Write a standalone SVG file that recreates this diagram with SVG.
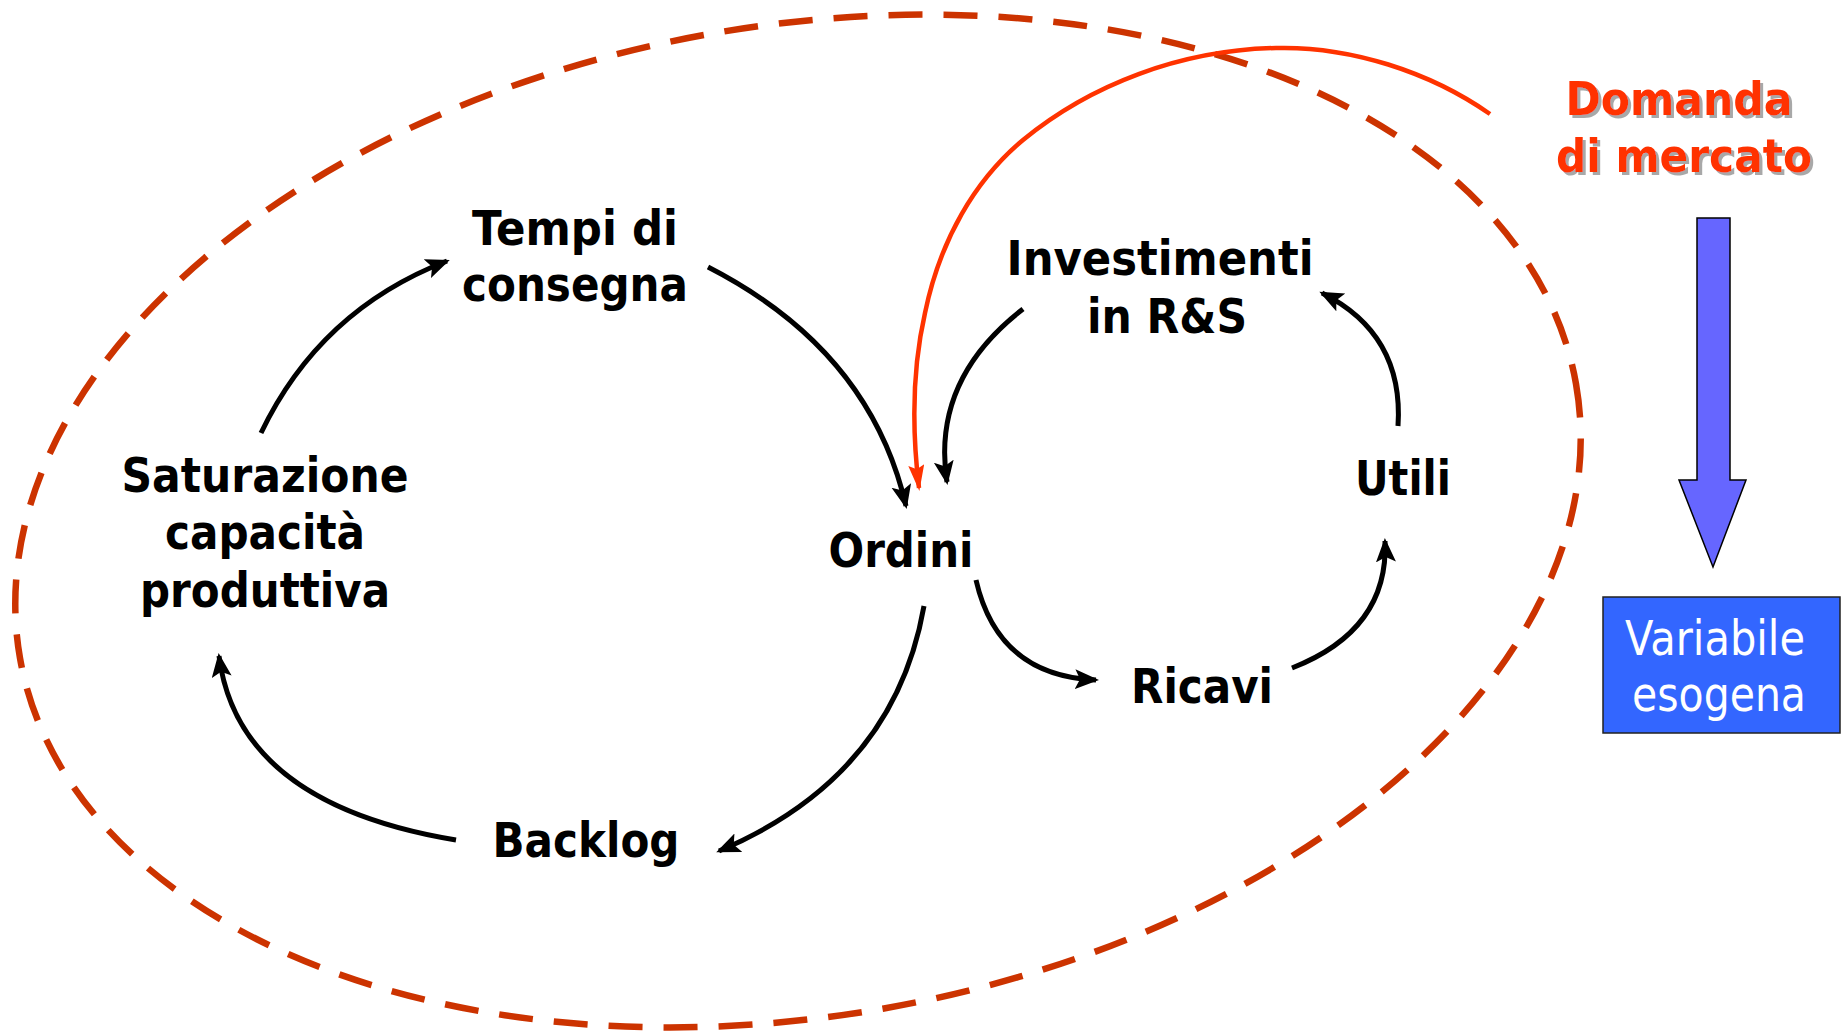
<svg xmlns="http://www.w3.org/2000/svg" width="1844" height="1034" viewBox="0 0 1844 1034">
<style>
.lbl{font-family:"DejaVu Sans","Liberation Sans",sans-serif;font-weight:bold;font-size:48px;fill:#000;text-anchor:middle}
.dom{font-family:"DejaVu Sans","Liberation Sans",sans-serif;font-weight:bold;font-size:46px;fill:#FF3300;text-anchor:middle;filter:url(#shadow)}
.var{font-family:"DejaVu Sans","Liberation Sans",sans-serif;font-size:48px;fill:#fff;text-anchor:middle}
.arr{fill:none;stroke:#000;stroke-width:5;marker-end:url(#ah)}
</style>
<defs>
<filter id="shadow" x="-5%" y="-20%" width="115%" height="150%">
<feDropShadow dx="3" dy="3" stdDeviation="0.6" flood-color="#A8A8A8" flood-opacity="1"/>
</filter>
<marker id="ah" markerUnits="userSpaceOnUse" markerWidth="26" markerHeight="22" refX="21" refY="10" orient="auto">
<path d="M0,0 L24,10 L0,20 L5,10 Z" fill="#000"/>
</marker>
<marker id="ahr" markerUnits="userSpaceOnUse" markerWidth="28" markerHeight="20" refX="23" refY="8" orient="auto">
<path d="M0,0 L26,8 L0,16 L4,8 Z" fill="#FF3300"/>
</marker>
</defs>
<rect width="1844" height="1034" fill="#fff"/>
<ellipse id="boundary" cx="798" cy="521" rx="790" ry="495" transform="rotate(-10 798 521)" fill="none" stroke="#CC3300" stroke-width="6.5" stroke-dasharray="34 21"/>
<g id="connectors">
<path class="arr" d="M261,433 Q320,310 447,261"/>
<path class="arr" d="M708,267 Q870,350 906,506"/>
<path class="arr" d="M1023,309 Q931,380 947,482"/>
<path class="arr" d="M1398,426 Q1404,334 1322,293"/>
<path class="arr" d="M976,580 Q998,676 1096,680"/>
<path class="arr" d="M1292,668 Q1389,630 1385,541"/>
<path class="arr" d="M924,606 Q894,777 719,851"/>
<path class="arr" d="M456,840 Q238,804 219,656"/>
<path fill="none" stroke="#FF3300" stroke-width="4.5" marker-end="url(#ahr)" d="M1490,114 C1430,72 1350,46 1276,48 C1180,50 1090,85 1023,140 C975,180 940,240 925,313 C912,370 912,430 919,488"/>
<path id="exo-arrow" d="M1697,218 L1730,218 L1730,480 L1746,480 L1713,567 L1679,480 L1697,480 Z" fill="#6666FF" stroke="#000" stroke-width="1.5"/>
</g>
<g id="tempi"><text class="lbl" x="575" y="245" textLength="206" lengthAdjust="spacingAndGlyphs">Tempi di</text><text class="lbl" x="575" y="301" textLength="226" lengthAdjust="spacingAndGlyphs">consegna</text></g>
<g id="investimenti"><text class="lbl" x="1160" y="275" textLength="307" lengthAdjust="spacingAndGlyphs">Investimenti</text><text class="lbl" x="1167" y="333" textLength="160" lengthAdjust="spacingAndGlyphs">in R&amp;S</text></g>
<g id="utili"><text class="lbl" x="1403" y="495" textLength="96" lengthAdjust="spacingAndGlyphs">Utili</text></g>
<g id="ordini"><text class="lbl" x="901" y="567" textLength="145" lengthAdjust="spacingAndGlyphs">Ordini</text></g>
<g id="ricavi"><text class="lbl" x="1202" y="703" textLength="142" lengthAdjust="spacingAndGlyphs">Ricavi</text></g>
<g id="backlog"><text class="lbl" x="586" y="857" textLength="187" lengthAdjust="spacingAndGlyphs">Backlog</text></g>
<g id="saturazione"><text class="lbl" x="265" y="492" textLength="287" lengthAdjust="spacingAndGlyphs">Saturazione</text><text class="lbl" x="265" y="549" textLength="200" lengthAdjust="spacingAndGlyphs">capacità</text><text class="lbl" x="265" y="607" textLength="250" lengthAdjust="spacingAndGlyphs">produttiva</text></g>
<g id="domanda">
<text class="dom" x="1679" y="115" textLength="227" lengthAdjust="spacingAndGlyphs">Domanda</text><text class="dom" x="1684" y="172" textLength="256" lengthAdjust="spacingAndGlyphs">di mercato</text>
</g>
<g id="variabile"><rect x="1603" y="597" width="237" height="136" fill="#3366FF" stroke="#222" stroke-width="1.5"/><text class="var" x="1715" y="655" textLength="180" lengthAdjust="spacingAndGlyphs">Variabile</text><text class="var" x="1719" y="711" textLength="174" lengthAdjust="spacingAndGlyphs">esogena</text></g>
</svg>
